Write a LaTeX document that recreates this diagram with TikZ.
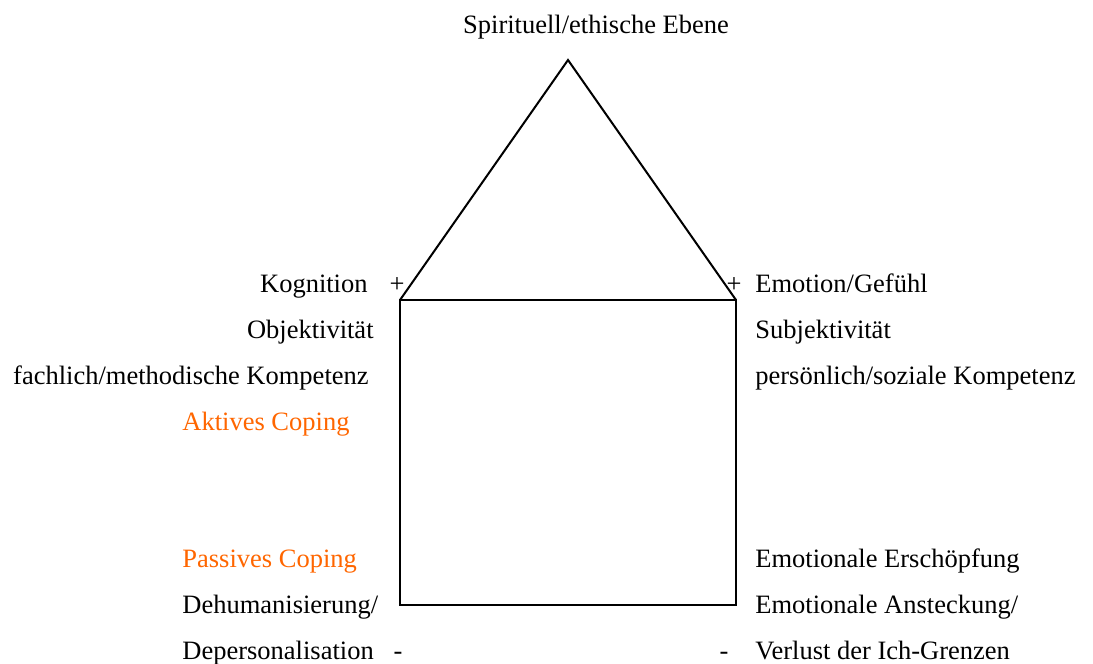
\documentclass[tikz,border=0pt]{standalone}
\usepackage{fontspec}
\setmainfont{Liberation Serif}
\usetikzlibrary{positioning}
\definecolor{copeorange}{RGB}{255,102,0}
\tikzset{
  lbl/.style={inner sep=0pt, font=\fontsize{13.25}{15}\selectfont},
  cope/.style={lbl, text=copeorange},
  wall/.style={line width=1pt, line join=miter}
}

\begin{document}
\begin{tikzpicture}[x=0.5pt, y=-0.5pt]
  \useasboundingbox (0,0) rectangle (1093,664);
  % house: roof and body
  \coordinate (apex) at (568,60);
  \coordinate (tl) at (400,300);
  \coordinate (tr) at (736,300);
  \coordinate (bl) at (400,605);
  \coordinate (br) at (736,605);
  \draw[wall] (tl) -- (apex) -- (tr);
  \draw[wall] (tl) rectangle (br);
  % top
  \node[lbl, anchor=base] (spirit) at (596,33) {Spirituell/ethische Ebene};
  % left side
  \node[lbl, anchor=base east] (kog) at (368,292) {Kognition};
  \node[lbl, anchor=base] (kplus) at (397,292) {+};
  \node[lbl, anchor=base east] (obj) at (374,338) {Objektivität};
  \node[lbl, anchor=base east] (fach) at (369,384) {fachlich/methodische Kompetenz};
  \node[cope, anchor=base west] (aktiv) at (182,430) {Aktives Coping};
  \node[cope, anchor=base west] (passiv) at (182,567) {Passives Coping};
  \node[lbl, anchor=base west] (dehum) at (182,613) {Dehumanisierung/};
  \node[lbl, anchor=base west] (deper) at (182,659) {Depersonalisation};
  \node[lbl, anchor=base] (dminus) at (398,659) {-};
  % right side
  \node[lbl, anchor=base] (eplus) at (734,292) {+};
  \node[lbl, anchor=base west] (emo) at (755,292) {Emotion/Gefühl};
  \node[lbl, anchor=base west] (subj) at (755,338) {Subjektivität};
  \node[lbl, anchor=base west] (pers) at (755,384) {persönlich/soziale Kompetenz};
  \node[lbl, anchor=base west] (ersch) at (755,567) {Emotionale Erschöpfung};
  \node[lbl, anchor=base west] (anst) at (755,613) {Emotionale Ansteckung/};
  \node[lbl, anchor=base west] (verl) at (755,659) {Verlust der Ich-Grenzen};
  \node[lbl, anchor=base] (vminus) at (724,659) {-};
\end{tikzpicture}
\end{document}
